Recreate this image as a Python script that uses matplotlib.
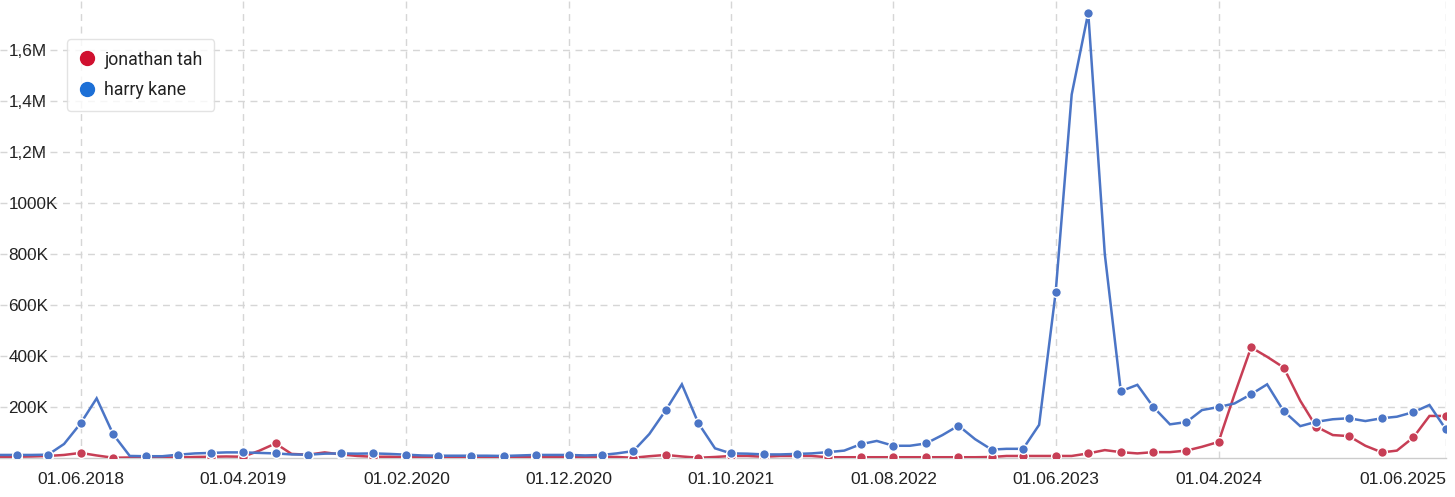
import matplotlib
matplotlib.use("Agg")
import matplotlib.pyplot as plt
import matplotlib.dates as mdates
from matplotlib.lines import Line2D
import pandas as pd

# ---- data (values in thousands) ----
months = pd.date_range("2018-01-01", periods=90, freq="MS")

harry_kane = [12, 12, 12, 13, 55, 136, 234, 93, 8, 7, 7, 13, 18, 20, 22, 22, 20, 18, 14, 13,
              17, 18, 17, 18, 16, 13, 10, 9, 9, 9, 9, 8, 10, 12, 12, 12, 10, 12, 18, 27,
              94, 188, 289, 136, 38, 18, 17, 14, 14, 16, 18, 23, 29, 54, 67, 48, 48, 57, 90, 127,
              74, 33, 36, 36, 130, 650, 1426, 1747, 800, 262, 287, 200, 132, 141, 188, 200, 214, 250, 289, 184,
              125, 142, 152, 156, 145, 156, 162, 180, 208, 112]

jonathan_tah = [5, 5, 6, 8, 12, 20, 10, 1, 2, 3, 2, 2, 4, 5, 6, 5, 28, 57, 16, 13,
                22, 14, 8, 5, 5, 3, 3, 4, 4, 4, 4, 3, 3, 4, 4, 4, 5, 5, 4, 1,
                7, 12, 6, 1, 4, 8, 8, 5, 8, 8, 8, 3, 3, 3, 3, 3, 3, 3, 3, 3,
                3, 4, 8, 8, 8, 8, 8, 18, 31, 23, 18, 23, 23, 29, 44, 63, 250, 434, 397, 355,
                225, 123, 90, 86, 48, 22, 29, 81, 165, 165]

series_names = ["jonathan tah", "harry kane"]
line_colors = ["#c73e55", "#4b75c6"]
legend_colors = ["#d0102f", "#1c6fd6"]

x_tick_dates = ["2018-06-01", "2019-04-01", "2020-02-01", "2020-12-01", "2021-10-01",
                "2022-08-01", "2023-06-01", "2024-04-01", "2025-06-01"]
y_tick_values = [200, 400, 600, 800, 1000, 1200, 1400, 1600]
y_tick_labels = ["200K", "400K", "600K", "800K", "1000K", "1,2M", "1,4M", "1,6M"]

# ---- figure ----
plt.rcParams["font.family"] = ["Liberation Sans", "DejaVu Sans"]
W, H = 1455, 497
fig = plt.figure(figsize=(W / 100, H / 100), dpi=100)
ax = fig.add_axes([0.0, 39 / H, 1446 / W, 458.8 / H])

for vals, col, z in zip([jonathan_tah, harry_kane], line_colors, [3, 4]):
    ax.plot(months, [v * 1000 for v in vals], color=col, lw=1.8, zorder=z,
            marker="o", markevery=slice(1, None, 2), markersize=7,
            markerfacecolor=col, markeredgecolor="white", markeredgewidth=1.0,
            solid_joinstyle="miter")

ax.set_xlim(months[0], months[-1])
ax.set_ylim(0, 1800000)

xt = pd.to_datetime(x_tick_dates)
ax.set_xticks(xt)
ax.set_xticklabels([d.strftime("%d.%m.%Y") for d in xt], fontsize=12.5, color="#222222")
labs = ax.get_xticklabels()
labs[-1].set_horizontalalignment("right")

ax.set_yticks([v * 1000 for v in y_tick_values])
ax.set_yticklabels(y_tick_labels, fontsize=12.3, color="#222222")
for t in ax.get_yticklabels():
    t.set_horizontalalignment("left")
ax.tick_params(axis="y", length=0, pad=-6)
ax.tick_params(axis="x", length=0, pad=10)

ax.grid(True, which="major", color="#d6d6d6", linestyle=(0, (5, 4)), linewidth=1.0, zorder=0)
ax.set_axisbelow(True)
for s in ["top", "right", "left"]:
    ax.spines[s].set_visible(False)
ax.spines["bottom"].set_color("#cccccc")
ax.spines["bottom"].set_linewidth(1.0)

handles = [Line2D([], [], linestyle="none", marker="o", markersize=10,
                  markerfacecolor=c, markeredgecolor=c) for c in legend_colors]
leg = fig.legend(handles, series_names, loc="upper left",
                 bbox_to_anchor=(67 / W, 1 - 39 / H), bbox_transform=fig.transFigure,
                 borderaxespad=0, frameon=True, fancybox=True,
                 handlelength=1.0, handletextpad=0.45, labelspacing=0.72,
                 borderpad=0.65, prop={"family": ["Roboto", "DejaVu Sans"], "size": 12.8})
leg.get_frame().set_edgecolor("#dddddd")
leg.get_frame().set_linewidth(1.0)
for t in leg.get_texts():
    t.set_color("#222222")

fig.savefig("out.png", dpi=100)
